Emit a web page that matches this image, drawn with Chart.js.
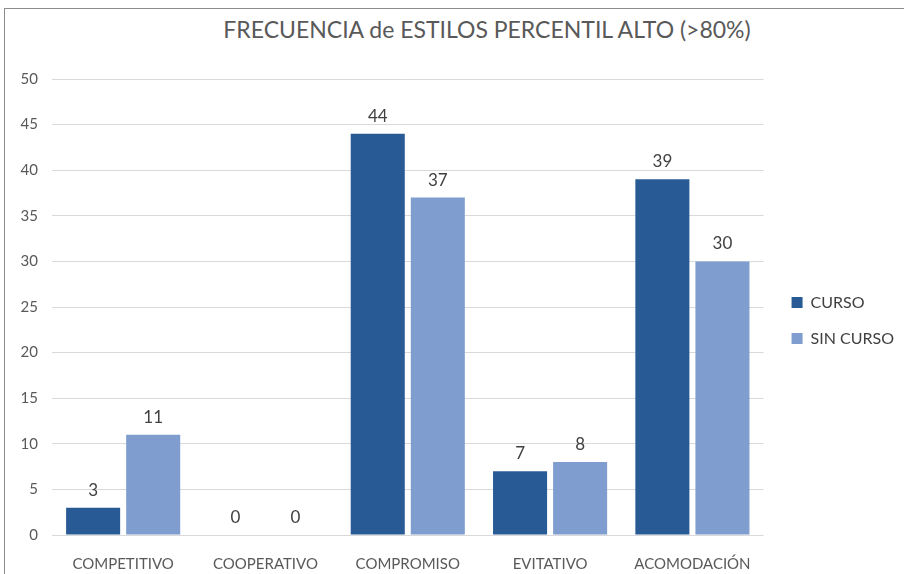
<!DOCTYPE html>
<html>
<head>
<meta charset="utf-8">
<script src="https://cdn.jsdelivr.net/npm/chart.js@4"></script>
<style>
  html, body { margin: 0; padding: 0; background: #fff; }
  #frame {
    position: absolute; left: 4px; top: 8px; width: 900px; height: 566px;
    border-top: 1px solid #8c8c8c; border-left: 1px solid #8c8c8c;
  }
  #titulo {
    position: absolute; left: 70px; top: 15px; width: 834px; text-align: center;
    font-family: Lato, "Open Sans", sans-serif; font-size: 23px; color: #595959;
  }
  #wrap { position: absolute; left: 5px; top: 9px; width: 899px; height: 565px; }
</style>
</head>
<body>
<div id="frame"></div>
<div id="titulo">FRECUENCIA de ESTILOS PERCENTIL ALTO (&gt;80%)</div>
<div id="wrap"><canvas id="grafico"></canvas></div>
<script>
// Estilos de manejo de conflicto
const estilos = ['COMPETITIVO', 'COOPERATIVO', 'COMPROMISO', 'EVITATIVO', 'ACOMODACIÓN'];
const curso = [3, 0, 44, 7, 39];
const sinCurso = [11, 0, 37, 8, 30];
const ejeY = [0, 5, 10, 15, 20, 25, 30, 35, 40, 45, 50];

const fuente = 'Lato, "Open Sans", sans-serif';

// Etiquetas de valor encima de cada barra
const etiquetasValor = {
  id: 'etiquetasValor',
  afterDatasetsDraw(chart) {
    const ctx = chart.ctx;
    ctx.save();
    ctx.font = '17px ' + fuente;
    ctx.fillStyle = '#404040';
    ctx.textAlign = 'center';
    ctx.textBaseline = 'bottom';
    chart.data.datasets.forEach((ds, i) => {
      chart.getDatasetMeta(i).data.forEach((bar, j) => {
        ctx.fillText(ds.data[j], bar.x, bar.y - 9);
      });
    });
    ctx.restore();
  }
};

// Deja un margen entre el área de trazado y la leyenda
const margenLeyenda = {
  id: 'margenLeyenda',
  beforeInit(chart) {
    const fitOriginal = chart.legend.fit;
    chart.legend.fit = function () {
      fitOriginal.bind(chart.legend)();
      this.width += 8;
    };
  },
  afterLayout(chart) {
    chart.legend.left += 8;
    chart.legend.top -= 6;
    chart.legend.bottom -= 6;
  }
};

new Chart(document.getElementById('grafico'), {
  type: 'bar',
  data: {
    labels: estilos,
    datasets: [
      { label: 'CURSO', data: curso, backgroundColor: '#285A95' },
      { label: 'SIN CURSO', data: sinCurso, backgroundColor: '#7F9ECF' }
    ]
  },
  options: {
    responsive: true,
    maintainAspectRatio: false,
    animation: false,
    categoryPercentage: 0.844,
    barPercentage: 0.9,
    layout: { padding: { top: 70, right: 0, left: 0, bottom: 0 } },
    plugins: {
      title: { display: false },
      tooltip: { enabled: false },
      legend: {
        position: 'right',
        labels: {
          boxWidth: 11,
          boxHeight: 11,
          padding: 20,
          color: '#404040',
          font: { family: fuente, size: 16 }
        }
      }
    },
    scales: {
      x: {
        grid: { display: false },
        border: { display: false },
        ticks: { color: '#595959', padding: 12, font: { family: fuente, size: 15 } },
        afterFit: s => { s.height = 39; }
      },
      y: {
        min: 0,
        max: 50,
        afterBuildTicks: s => { s.ticks = ejeY.map(v => ({ value: v })); },
        grid: { color: '#d9d9d9', drawTicks: false },
        border: { display: false },
        ticks: { color: '#595959', padding: 14, font: { family: fuente, size: 15 } },
        afterFit: s => { s.width = 47; }
      }
    }
  },
  plugins: [etiquetasValor, margenLeyenda]
});
</script>
</body>
</html>
